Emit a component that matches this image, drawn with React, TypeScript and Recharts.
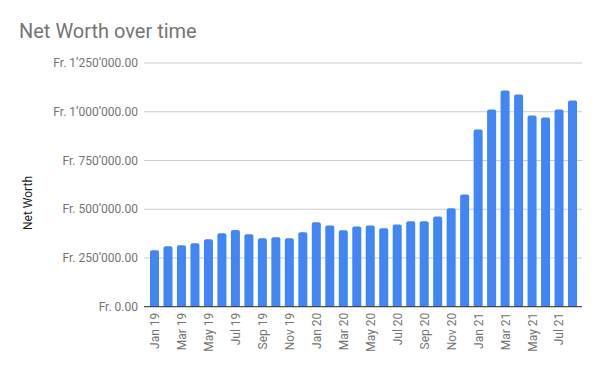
import { BarChart, Bar, XAxis, YAxis, CartesianGrid } from "recharts";

const months = [
  "Jan 19", "Feb 19", "Mar 19", "Apr 19", "May 19", "Jun 19", "Jul 19", "Aug 19",
  "Sep 19", "Oct 19", "Nov 19", "Dec 19",
  "Jan 20", "Feb 20", "Mar 20", "Apr 20", "May 20", "Jun 20", "Jul 20", "Aug 20",
  "Sep 20", "Oct 20", "Nov 20", "Dec 20",
  "Jan 21", "Feb 21", "Mar 21", "Apr 21", "May 21", "Jun 21", "Jul 21", "Aug 21",
];

const netWorth = [
  289000, 310000, 315000, 325000, 346000, 377000, 393000, 371000,
  351000, 356000, 351000, 382000,
  433000, 417000, 392000, 412000, 417000, 402000, 422000, 438000,
  438000, 463000, 505000, 576000,
  909000, 1012000, 1109000, 1089000, 981000, 971000, 1012000, 1058000,
];

const yTicks = [0, 250000, 500000, 750000, 1000000, 1250000];

const data = months.map((m, i) => ({ month: m, value: netWorth[i] }));

const FONT = "Roboto, 'Noto Sans', sans-serif";

function formatFr(v: number) {
  const int = Math.floor(v)
    .toString()
    .replace(/\B(?=(\d{3})+(?!\d))/g, "\u2019");
  return `Fr. ${int}.00`;
}

function MonthTick({ x, y, payload }: any) {
  return (
    <g transform={`translate(${x},${y})`}>
      <text
        x={0}
        y={0}
        dy="0.35em"
        textAnchor="end"
        transform="rotate(-90)"
        fill="#757575"
        fontSize={12}
        fontFamily={FONT}
      >
        {payload.value}
      </text>
    </g>
  );
}

export default function App() {
  return (
    <div style={{ position: "absolute", left: 0, top: 0, width: 600, height: 371, background: "#fff" }}>
      <div
        style={{
          position: "absolute",
          left: 19,
          top: 21,
          fontFamily: FONT,
          fontSize: 20,
          lineHeight: "20px",
          color: "#757575",
          whiteSpace: "nowrap",
        }}
      >
        Net Worth over time
      </div>
      <BarChart
        width={600}
        height={371}
        data={data}
        margin={{ top: 63, right: 18, bottom: 0, left: 0 }}
      >
        <CartesianGrid vertical={false} stroke="#cccccc" />
        <XAxis
          dataKey="month"
          height={64.3}
          interval={1}
          tickLine={false}
          tickSize={4}
          tickMargin={2}
          axisLine={{ stroke: "#333333" }}
          padding={{ left: 4, right: 2.5 }}
          tick={<MonthTick />}
        />
        <YAxis
          width={144}
          domain={[0, 1250000]}
          ticks={yTicks}
          tickFormatter={formatFr}
          axisLine={false}
          tickLine={false}
          tickSize={6}
          tickMargin={0}
          tick={{ fill: "#757575", fontSize: 12, fontFamily: FONT }}
          label={{
            content: () => (
              <text
                x={28}
                y={203}
                transform="rotate(-90, 28, 203)"
                textAnchor="middle"
                dominantBaseline="central"
                fill="#222222"
                fontSize={12}
                fontFamily={FONT}
              >
                Net Worth
              </text>
            ),
          }}
        />
        <Bar
          dataKey="value"
          fill="#4285F4"
          barSize={9}
          radius={[2, 2, 0, 0]}
          isAnimationActive={false}
        />
      </BarChart>
    </div>
  );
}
